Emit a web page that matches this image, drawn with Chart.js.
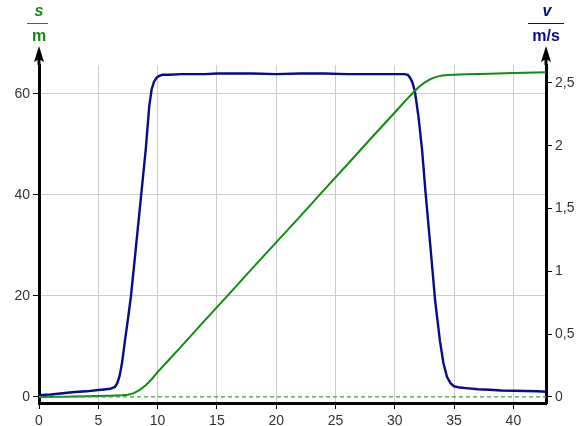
<!DOCTYPE html>
<html>
<head>
<meta charset="utf-8">
<script src="https://cdn.jsdelivr.net/npm/chart.js@4"></script>
<style>
  html, body { margin: 0; padding: 0; background: #fff; }
  #wrap { width: 582px; height: 426px; position: relative; }
</style>
</head>
<body>
<div id="wrap"><canvas id="chart"></canvas></div>
<script>
// time axis (s)
const xTicks = [0, 5, 10, 15, 20, 25, 30, 35, 40];

// velocity v (m/s), right axis
const velT = [0, 1, 2, 3, 4, 5, 5.5, 6, 6.4, 6.6, 6.8, 7.0, 7.25, 7.5, 7.75, 8.0, 8.5, 9.0, 9.3, 9.5, 9.7, 9.9, 10.1, 10.4, 11, 12, 13, 14, 15, 16, 18, 20, 22, 24, 26, 28, 30, 30.8, 31.1, 31.3, 31.5, 31.7, 32.0, 32.3, 32.6, 33.0, 33.4, 33.8, 34.1, 34.4, 34.7, 35.0, 35.5, 36, 37, 38, 39, 40, 41, 42, 42.75];
const velV = [0.015, 0.02, 0.03, 0.04, 0.045, 0.055, 0.06, 0.065, 0.08, 0.11, 0.17, 0.27, 0.45, 0.62, 0.8, 1.03, 1.5, 1.97, 2.32, 2.45, 2.51, 2.54, 2.555, 2.565, 2.565, 2.57, 2.57, 2.57, 2.575, 2.575, 2.575, 2.57, 2.575, 2.575, 2.57, 2.57, 2.57, 2.57, 2.565, 2.54, 2.5, 2.43, 2.23, 1.97, 1.62, 1.2, 0.77, 0.45, 0.27, 0.16, 0.11, 0.085, 0.075, 0.07, 0.062, 0.058, 0.052, 0.05, 0.048, 0.046, 0.042];

// distance s (m), left axis
const distT = [0, 2, 4, 5, 6, 6.5, 7, 7.5, 8, 8.5, 9, 9.5, 10, 11, 12, 14, 16, 18, 20, 22, 24, 26, 28, 30, 31, 31.5, 32, 32.5, 33, 33.5, 34, 34.5, 35, 36, 38, 40, 42.75];
const distS = [0, 0.05, 0.12, 0.18, 0.25, 0.3, 0.35, 0.45, 0.75, 1.4, 2.3, 3.5, 4.9, 7.45, 10.0, 15.2, 20.3, 25.5, 30.6, 35.7, 40.9, 46.0, 51.2, 56.3, 58.9, 60.1, 61.3, 62.2, 62.9, 63.35, 63.6, 63.72, 63.77, 63.85, 63.97, 64.1, 64.25];

// zero reference line
const zeroT = [0, 42.75];
const zeroS = [0, 0];

const green = '#138a13';
const navy = '#0a0a8c';

const axisArrows = {
    id: 'axisArrows',
    afterDraw(chart) {
        const ctx = chart.ctx;
        const area = chart.chartArea;
        ctx.save();
        [area.left, area.right].forEach(x => {
            ctx.strokeStyle = '#000';
            ctx.lineWidth = 3;
            ctx.beginPath();
            ctx.moveTo(x, area.top);
            ctx.lineTo(x, 56);
            ctx.stroke();
            ctx.fillStyle = '#000';
            ctx.beginPath();
            ctx.moveTo(x, 46);
            ctx.lineTo(x + 5, 62);
            ctx.lineTo(x, 59);
            ctx.lineTo(x - 5, 62);
            ctx.closePath();
            ctx.fill();
        });

        // unit labels
        ctx.textAlign = 'center';
        ctx.textBaseline = 'middle';
        ctx.fillStyle = green;
        ctx.font = 'italic bold 16px "Liberation Sans", Arial, sans-serif';
        ctx.fillText('s', 39, 12);
        ctx.font = 'bold 16px "Liberation Sans", Arial, sans-serif';
        ctx.fillText('m', 39, 37);
        ctx.strokeStyle = green;
        ctx.lineWidth = 1;
        ctx.beginPath();
        ctx.moveTo(27, 23.5);
        ctx.lineTo(48, 23.5);
        ctx.stroke();

        ctx.fillStyle = navy;
        ctx.font = 'italic bold 16px "Liberation Sans", Arial, sans-serif';
        ctx.fillText('v', 547, 12);
        ctx.font = 'bold 16px "Liberation Sans", Arial, sans-serif';
        ctx.fillText('m/s', 546, 37);
        ctx.strokeStyle = navy;
        ctx.beginPath();
        ctx.moveTo(528, 23.5);
        ctx.lineTo(564, 23.5);
        ctx.stroke();
        ctx.restore();
    }
};

function pts(xs, ys) {
    return xs.map((x, i) => ({ x: x, y: ys[i] }));
}

const tickFont = { family: '"Liberation Sans", Arial, sans-serif', size: 14 };

new Chart(document.getElementById('chart'), {
    type: 'line',
    data: {
        datasets: [
            {
                label: 'zero',
                data: pts(zeroT, zeroS),
                yAxisID: 'y',
                borderColor: '#3f9f3f',
                borderWidth: 1.2,
                borderDash: [4, 3],
                pointRadius: 0
            },
            {
                label: 's',
                data: pts(distT, distS),
                yAxisID: 'y',
                borderColor: green,
                borderWidth: 2,
                pointRadius: 0,
                tension: 0
            },
            {
                label: 'v',
                data: pts(velT, velV),
                yAxisID: 'y1',
                borderColor: navy,
                borderWidth: 2.4,
                pointRadius: 0,
                tension: 0
            }
        ]
    },
    options: {
        responsive: true,
        maintainAspectRatio: false,
        animation: false,
        layout: { padding: { top: 65, right: 0, left: 0, bottom: 0 } },
        plugins: {
            legend: { display: false },
            tooltip: { enabled: false }
        },
        scales: {
            x: {
                type: 'linear',
                min: 0,
                max: 42.75,
                afterFit: s => { s.height = 23; },
                afterBuildTicks: s => { s.ticks = xTicks.map(v => ({ value: v })); },
                ticks: { font: tickFont, color: '#333', padding: 4 },
                grid: { color: '#cccccc', tickColor: '#000', tickLength: 6, lineWidth: 1 },
                border: { color: '#000', width: 3 }
            },
            y: {
                position: 'left',
                min: -1.2,
                max: 65.7,
                afterFit: s => { s.width = 39; },
                ticks: { stepSize: 20, includeBounds: false, font: tickFont, color: '#333', padding: 3 },
                grid: {
                    color: c => c.tick && c.tick.value === 0 ? 'rgba(0,0,0,0)' : '#cccccc',
                    tickColor: '#000',
                    tickLength: 6
                },
                border: { color: '#000', width: 3 }
            },
            y1: {
                position: 'right',
                min: -0.048,
                max: 2.643,
                afterFit: s => { s.width = 36; },
                ticks: {
                    stepSize: 0.5,
                    includeBounds: false,
                    font: tickFont,
                    color: '#333',
                    padding: 3,
                    callback: v => String(v).replace('.', ',')
                },
                grid: { drawOnChartArea: false, tickColor: '#000', tickLength: 6 },
                border: { color: '#000', width: 3 }
            }
        }
    },
    plugins: [axisArrows]
});
</script>
</body>
</html>
